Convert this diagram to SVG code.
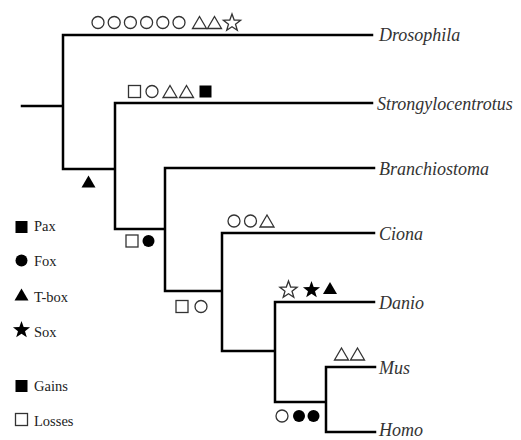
<svg xmlns="http://www.w3.org/2000/svg" xmlns:xlink="http://www.w3.org/1999/xlink" width="521" height="440" viewBox="0 0 521 440">
<style>
.br{fill:none;stroke:#000;stroke-width:2.5;stroke-linecap:square}
.lab{font-family:"Liberation Serif","Times New Roman",serif;font-style:italic;font-size:18px;fill:#333}
.leg{font-family:"Liberation Serif","Times New Roman",serif;font-size:14.5px;fill:#222}
.o{fill:#fff;stroke:#333;stroke-width:1.3}
.f{fill:#000}
</style>
<defs>
<circle id="c" r="6"/>
<rect id="s" x="-6" y="-6" width="12" height="12"/>
<polygon id="t" points="0,-6 7,6 -7,6"/>
<polygon id="st" points="0,-9 2.17,-2.99 8.56,-2.78 3.52,1.14 5.29,7.28 0,3.7 -5.29,7.28 -3.52,1.14 -8.56,-2.78 -2.17,-2.99"/>
</defs>
<g id="connectors">
<path class="br" d="M22,106H63M63,35V169M63,35H372M63,169H115M115,103V229M115,103H372M115,229H165M165,168V291M165,168H374M165,291H222M222,233V351M222,233H374M222,351H275M275,302V402M275,302H374M275,402H326M326,367V432M326,367H375M326,432H375"/>
</g>
<g id="drosophila">
<text class="lab" x="379" y="41">Drosophila</text>
<use href="#c" class="o" x="98" y="22.5"/>
<use href="#c" class="o" x="114.2" y="22.5"/>
<use href="#c" class="o" x="130.4" y="22.5"/>
<use href="#c" class="o" x="146.6" y="22.5"/>
<use href="#c" class="o" x="162.8" y="22.5"/>
<use href="#c" class="o" x="179" y="22.5"/>
<use href="#t" class="o" x="199.5" y="22.5"/>
<use href="#t" class="o" x="214.5" y="22.5"/>
<use href="#st" class="o" x="232" y="23"/>
</g>
<g id="strongylocentrotus">
<text class="lab" x="377" y="109.5">Strongylocentrotus</text>
<use href="#s" class="o" x="134.5" y="91.5"/>
<use href="#c" class="o" x="152" y="91.5"/>
<use href="#t" class="o" x="170" y="91.5"/>
<use href="#t" class="o" x="186.5" y="91.5"/>
<use href="#s" class="f" x="205.5" y="91.5"/>
</g>
<g id="node1">
<use href="#t" class="f" x="88.5" y="181.5"/>
</g>
<g id="branchiostoma">
<text class="lab" x="379" y="174.5">Branchiostoma</text>
</g>
<g id="node2">
<use href="#s" class="o" x="132" y="241"/>
<use href="#c" class="f" x="148.5" y="241"/>
</g>
<g id="ciona">
<text class="lab" x="379" y="239.5">Ciona</text>
<use href="#c" class="o" x="234" y="221"/>
<use href="#c" class="o" x="250.5" y="221"/>
<use href="#t" class="o" x="267" y="221"/>
</g>
<g id="node3">
<use href="#s" class="o" x="182" y="306.5"/>
<use href="#c" class="o" x="201" y="306.5"/>
</g>
<g id="danio">
<text class="lab" x="379" y="308.5">Danio</text>
<use href="#st" class="o" x="288.5" y="290"/>
<use href="#st" class="f" x="311.5" y="290"/>
<use href="#t" class="f" x="330" y="288"/>
</g>
<g id="mus">
<text class="lab" x="379" y="373.5">Mus</text>
<use href="#t" class="o" x="341.5" y="354"/>
<use href="#t" class="o" x="357.5" y="354"/>
</g>
<g id="node4">
<use href="#c" class="o" x="282" y="416"/>
<use href="#c" class="f" x="299" y="416"/>
<use href="#c" class="f" x="313.5" y="416"/>
</g>
<g id="homo">
<text class="lab" x="379" y="436">Homo</text>
</g>
<g id="legend">
<use href="#s" class="f" x="21.5" y="227"/>
<text class="leg" x="34" y="231">Pax</text>
<use href="#c" class="f" x="21.5" y="260.5"/>
<text class="leg" x="34" y="266">Fox</text>
<use href="#t" class="f" x="21.5" y="294.5"/>
<text class="leg" x="34" y="301.5">T-box</text>
<use href="#st" class="f" x="21.5" y="330"/>
<text class="leg" x="34" y="336.5">Sox</text>
<use href="#s" class="f" x="21.5" y="386"/>
<text class="leg" x="34" y="390.5">Gains</text>
<use href="#s" class="o" x="21.5" y="419.5"/>
<text class="leg" x="34" y="425.5">Losses</text>
</g>
</svg>
